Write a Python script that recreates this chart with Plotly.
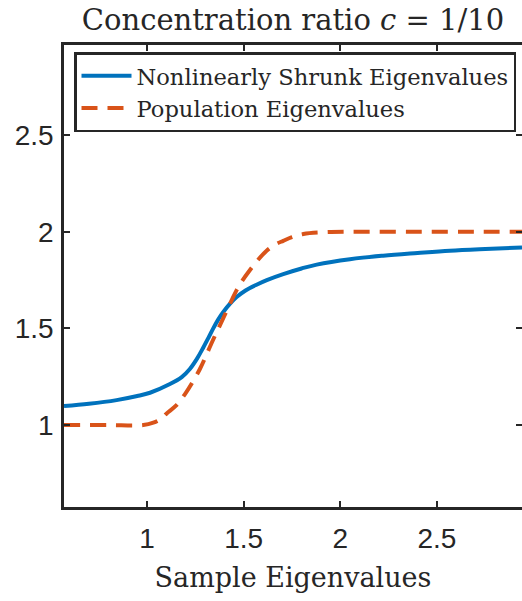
import plotly.graph_objects as go

# Nonlinearly shrunk eigenvalues
shrunk_x = [0.571, 0.70, 0.843, 0.95, 1.016, 1.119, 1.18, 1.222, 1.26, 1.291, 1.32, 1.343, 1.37, 1.395,
            1.43, 1.464, 1.51, 1.567, 1.62, 1.705, 1.80, 1.878, 2.05, 2.222, 2.40, 2.567, 2.75, 2.94]
shrunk_y = [1.098, 1.110, 1.129, 1.150, 1.167, 1.212, 1.248, 1.290, 1.345, 1.400, 1.455, 1.500, 1.548, 1.585,
            1.628, 1.662, 1.696, 1.726, 1.750, 1.781, 1.810, 1.830, 1.858, 1.876, 1.890, 1.902, 1.911, 1.919]

# Population eigenvalues
pop_x = [0.571, 0.80, 0.981, 1.033, 1.07, 1.102, 1.15, 1.197, 1.235, 1.274, 1.30, 1.326, 1.352, 1.378,
         1.41, 1.438, 1.464, 1.49, 1.533, 1.575, 1.619, 1.66, 1.705, 1.75, 1.809, 1.912, 2.10, 2.40, 2.70, 2.94]
pop_y = [1.0, 1.0, 1.0, 1.012, 1.030, 1.06, 1.10, 1.160, 1.220, 1.290, 1.345, 1.405, 1.462, 1.517,
         1.585, 1.645, 1.698, 1.742, 1.802, 1.855, 1.902, 1.932, 1.953, 1.972, 1.988, 1.997, 2.0, 2.0, 2.0, 2.0]

x_ticks = [1, 1.5, 2, 2.5]
y_ticks = [1, 1.5, 2, 2.5]
tick_text = ["1", "1.5", "2", "2.5"]

AX = "#262626"
SERIF = "DejaVu Serif"
SANS = "Liberation Sans"

W, H = 522, 601
L, T, R, B = 64, 45, 0, 94
PW, PH = W - L - R, H - T - B

fig = go.Figure()
fig.add_trace(go.Scatter(x=shrunk_x, y=shrunk_y, mode="lines",
                         name="Nonlinearly Shrunk Eigenvalues",
                         line=dict(color="#0072BD", width=4, shape="spline", smoothing=1.0)))
fig.add_trace(go.Scatter(x=pop_x, y=pop_y, mode="lines",
                         name="Population Eigenvalues",
                         line=dict(color="#D95319", width=4, dash="16px,10px", shape="spline", smoothing=1.0)))

fig.update_layout(
    width=W, height=H,
    margin=dict(l=L, r=R, t=T, b=B, autoexpand=False),
    paper_bgcolor="white", plot_bgcolor="white",
    title=dict(text="Concentration ratio <i>c</i> = 1/10", x=0.5, xanchor="center",
               xref="paper", yref="container", y=1 - 20 / H, yanchor="middle",
               font=dict(family=SERIF, size=29, color=AX)),
    xaxis=dict(range=[0.571, 2.94], tickvals=x_ticks, ticktext=tick_text,
               showgrid=False, zeroline=False, showline=True, linecolor=AX, linewidth=2.5,
               mirror="ticks", ticks="inside", ticklen=6, tickwidth=2, tickcolor=AX,
               ticklabelstandoff=5,
               tickfont=dict(family=SANS, size=28, color=AX),
               title=dict(text="Sample Eigenvalues", standoff=15,
                          font=dict(family=SERIF, size=27, color=AX))),
    yaxis=dict(range=[0.576, 2.966], tickvals=y_ticks, ticktext=tick_text,
               showgrid=False, zeroline=False, showline=True, linecolor=AX, linewidth=2.5,
               mirror="ticks", ticks="inside", ticklen=6, tickwidth=2, tickcolor=AX,
               ticklabelstandoff=2,
               tickfont=dict(family=SANS, size=28, color=AX)),
    legend=dict(x=(74 - L) / PW, y=1 - (52 - T) / PH, xanchor="left", yanchor="top",
                bgcolor="white", bordercolor=AX, borderwidth=2.5,
                font=dict(family=SERIF, size=22.6, color=AX),
                tracegroupgap=0, itemwidth=50),
    showlegend=True,
)

fig.write_html("out.html", config={"displayModeBar": False},
               post_script="document.body.style.margin='0';")
